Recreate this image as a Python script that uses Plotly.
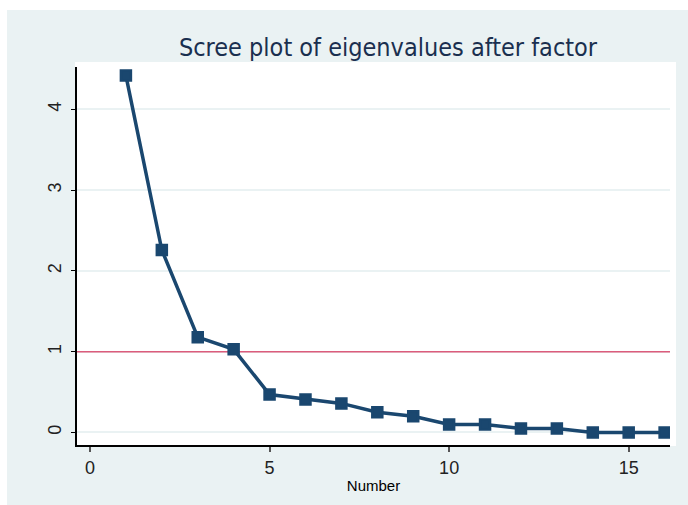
import plotly.graph_objects as go

number = list(range(1, 17))
eigenvalues = [4.42, 2.26, 1.18, 1.03, 0.47, 0.41, 0.36, 0.25, 0.20, 0.10, 0.10, 0.05, 0.05, 0.0, 0.0, 0.0]
x_ticks = [0, 5, 10, 15]
y_ticks = [0, 1, 2, 3, 4]
ref_value = 1
x_range = [-0.362, 16.15]
y_range = [-0.155, 4.526]

W, H = 688, 505
L, R, T, B = 77, 18, 67, 60
pw, ph = W - L - R, H - T - B

def px_x(p):
    return (p - L) / pw

def px_y(p):
    return (H - B - p) / ph

NAVY = "#1a476f"
BG = "#eaf2f3"
TICKFONT = dict(family="Liberation Sans, Arial, sans-serif", size=18, color="#222222")

fig = go.Figure()
fig.add_trace(go.Scatter(
    x=x_range, y=[ref_value, ref_value], mode="lines",
    line=dict(color="#dc5c7c", width=1.5), showlegend=False, hoverinfo="skip",
))
fig.add_trace(go.Scatter(
    x=number, y=eigenvalues, mode="lines+markers",
    line=dict(color=NAVY, width=3.5),
    marker=dict(symbol="square", size=10, color=NAVY, line=dict(color=NAVY, width=2.5)),
    showlegend=False, hoverinfo="x+y",
))

shapes = [
    dict(type="rect", xref="paper", yref="paper", x0=px_x(7), x1=px_x(700), y0=px_y(520), y1=px_y(10),
         fillcolor=BG, line=dict(width=0), layer="below"),
    dict(type="rect", xref="paper", yref="paper", x0=px_x(75), x1=px_x(676), y0=px_y(446), y1=px_y(62),
         fillcolor="white", line=dict(width=0), layer="below"),
]

fig.update_layout(
    width=W, height=H,
    margin=dict(l=L, r=R, t=T, b=B),
    paper_bgcolor="white", plot_bgcolor="white",
    shapes=shapes,
    font=dict(family="Liberation Sans, Arial, sans-serif", color="black", size=18),
    title=dict(text="Scree plot of eigenvalues after factor",
               xref="container", yref="container", x=388 / W, y=1 - 47 / H,
               xanchor="center", yanchor="middle",
               font=dict(family="Liberation Sans Narrow, DejaVu Sans Condensed, Arial Narrow, sans-serif",
                         size=25, color="#1a2f4f")),
    xaxis=dict(range=x_range, tickvals=x_ticks, showgrid=False, zeroline=False,
               showline=True, linecolor="black", linewidth=1.5,
               ticks="outside", ticklen=5, tickcolor="#555555", tickwidth=1.5,
               ticklabelstandoff=1, tickfont=TICKFONT,
               title=dict(text="Number", standoff=3,
                          font=dict(family="Liberation Sans, Arial, sans-serif", size=15, color="black"))),
    yaxis=dict(range=y_range, tickvals=y_ticks, showgrid=True, gridcolor=BG, gridwidth=1.5,
               zeroline=False, showline=True, linecolor="black", linewidth=1.5,
               ticks="outside", ticklen=4, tickcolor="black", tickwidth=1,
               tickangle=-90, ticklabelstandoff=3, tickfont=TICKFONT),
)

fig.write_html("out.html")
